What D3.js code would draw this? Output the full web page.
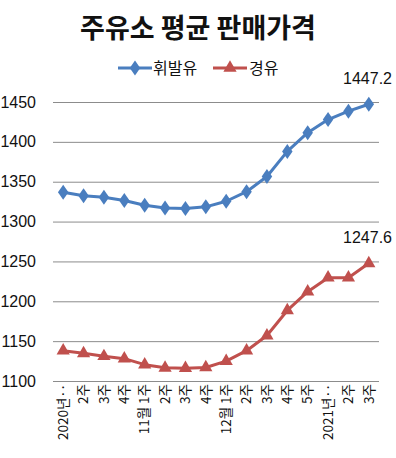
<!DOCTYPE html>
<html><head><meta charset="utf-8">
<script src="https://cdn.jsdelivr.net/npm/d3@7"></script>
<style>body{margin:0;background:#fff;}svg{display:block;}</style>
</head><body>
<svg id="c" width="396" height="458"></svg>
<script>
const title = "주유소 평균 판매가격";
const categories = ["2020년‥","2주","3주","4주","11월 1주","2주","3주","4주","12월 1주","2주","3주","4주","5주","2021년‥","2주","3주"];
const seriesNames = ["휘발유","경유"];
const gasoline = [1336.8,1332.5,1330.5,1326.5,1320.5,1317,1316.5,1318.5,1325.5,1337.5,1356.5,1388,1411.5,1428,1438.5,1447.2];
const diesel = [1138,1134.7,1131,1128,1120.5,1116.5,1116,1117,1125,1138,1157,1188.5,1212,1229.5,1229.5,1247.6];
const yTicks = [1100,1150,1200,1250,1300,1350,1400,1450];
const colors = ["#4a7ebf","#c0504d"];

const svg = d3.select("#c");
const m = {l:53, r:379, t:102, b:381};
const x = d3.scaleBand().domain(d3.range(categories.length)).range([m.l, m.r]);
const y = d3.scaleLinear().domain([1100,1450]).range([m.b, m.t]);
const fontNum = "'Liberation Sans', Arial, sans-serif";
const fontKr = "'Noto Sans CJK KR', sans-serif";

svg.append("text").attr("x",198).attr("y",38).attr("text-anchor","middle")
  .attr("font-family",fontKr).attr("font-weight","bold").attr("font-size",27)
  .attr("fill","#111").text(title);

// gridlines + y labels
const yAxis = d3.axisLeft(y).tickValues(yTicks).tickSize(-(m.r-m.l)).tickPadding(17).tickFormat(d3.format("d"));
const ga = svg.append("g").attr("transform",`translate(${m.l},0)`).call(yAxis);
ga.select(".domain").remove();
ga.selectAll(".tick line").attr("stroke","#8c8c8c").attr("stroke-width",1);
ga.selectAll(".tick text").attr("font-family",fontNum).attr("font-size",16).attr("fill","#111");

// x labels
const xAxis = d3.axisBottom(x).tickFormat(i=>categories[i]).tickSize(0);
const gx = svg.append("g").attr("transform",`translate(0,${m.b})`).call(xAxis);
gx.select(".domain").remove();
gx.selectAll(".tick text").attr("font-family",fontKr).attr("font-size",13.5).attr("fill","#111")
  .attr("transform","rotate(-90)").attr("text-anchor","end").attr("dy","0.35em").attr("x",-3).attr("y",0);

const cx = i => x(i) + x.bandwidth()/2;
const data = [gasoline, diesel];
const line = d3.line().x((d,i)=>cx(i)).y(d=>y(d));
data.forEach((s,k)=>{
  svg.append("path").datum(s).attr("d",line).attr("fill","none")
    .attr("stroke",colors[k]).attr("stroke-width",3).attr("stroke-linejoin","round");
});
const diamond = d3.symbol().type(d3.symbolDiamond).size(72);
const tri = d3.symbol().type(d3.symbolTriangle).size(76);
svg.append("g").selectAll("path").data(gasoline).join("path")
  .attr("d",diamond).attr("fill",colors[0])
  .attr("transform",(d,i)=>`translate(${cx(i)},${y(d)}) scale(1.15,0.95)`);
svg.append("g").selectAll("path").data(diesel).join("path")
  .attr("d",tri).attr("fill",colors[1])
  .attr("transform",(d,i)=>`translate(${cx(i)},${y(d)})`);

// end labels
[gasoline, diesel].forEach((s,k)=>{
  const v = s[s.length-1];
  svg.append("text").attr("x",392).attr("y",y(v)-20).attr("text-anchor","end")
    .attr("font-family",fontNum).attr("font-size",16).attr("fill","#111").text(v.toFixed(1));
});

// legend
const lg = svg.append("g");
const items = [{x:118,tx:153},{x:213,tx:249}];
items.forEach((it,k)=>{
  lg.append("line").attr("x1",it.x).attr("x2",it.x+34).attr("y1",68).attr("y2",68)
    .attr("stroke",colors[k]).attr("stroke-width",3);
  lg.append("path").attr("d",k===0?diamond:tri).attr("fill",colors[k])
    .attr("transform",`translate(${it.x+17},68)`+(k===0?" scale(1.15,0.95)":""));
  lg.append("text").attr("x",it.tx).attr("y",68).attr("dy","0.35em")
    .attr("font-family",fontKr).attr("font-size",16).attr("fill","#111").text(seriesNames[k]);
});
</script>
</body></html>
